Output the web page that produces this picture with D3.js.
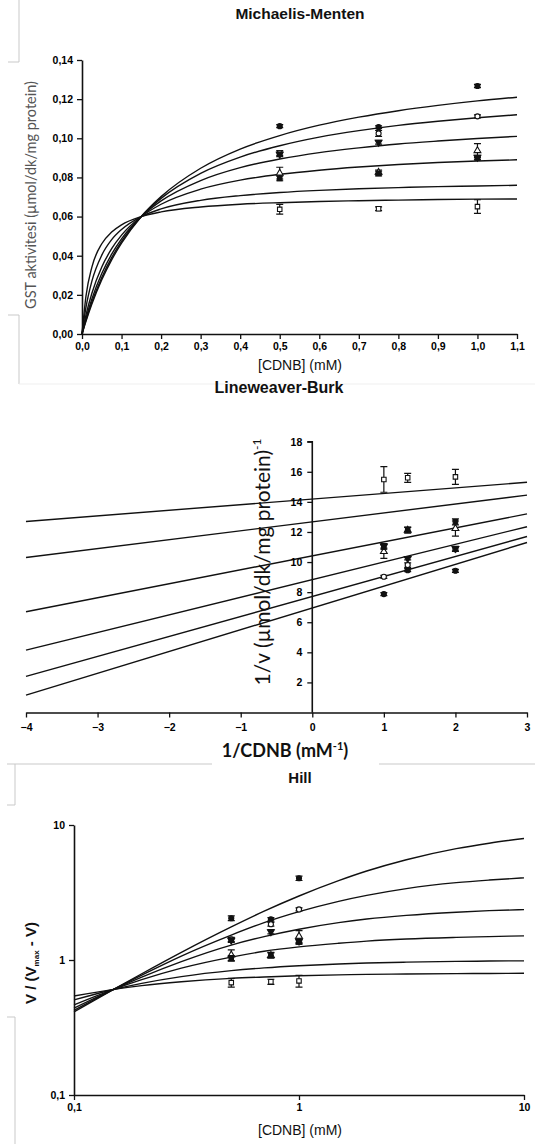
<!DOCTYPE html>
<html>
<head>
<meta charset="utf-8">
<script src="https://cdn.jsdelivr.net/npm/d3@7"></script>
<style>
  body { margin: 0; background: #fff; }
  svg { display: block; }
  .tick text { font-family: "Liberation Sans", Arial, sans-serif; font-weight: bold; font-size: 10.5px; }
  .axis path, .axis line { stroke: #111; }
  .axis path { stroke-width: 1.6px; }
  .axis line { stroke-width: 1.3px; }
</style>
</head>
<body>
<script>
// ---- Michaelis-Menten data ----
const mmS = [0.5, 0.75, 1.0];
const mmV = [
  [0.1062, 0.1057, 0.1267],
  [0.0925, 0.1025, 0.1112],
  [0.0918, 0.0980, 0.0903],
  [0.0822, 0.0826, 0.0937],
  [0.0795, 0.0820, 0.0900],
  [0.0637, 0.0640, 0.0651]
];
const mmErr = [
  [0.0008, 0.0007, 0.0008],
  [0.0012, 0.0015, 0.0008],
  [0.0012, 0.0010, 0.0010],
  [0.0030, 0.0012, 0.0036],
  [0.0012, 0.0012, 0.0010],
  [0.0025, 0.0010, 0.0035]
];
const mmCurveS = [0, 0.01, 0.025, 0.05, 0.075, 0.1, 0.15, 0.2, 0.3, 0.4, 0.5, 0.6, 0.7, 0.8, 0.9, 1.0, 1.1];
const mmCurves = [
  [0, 0.0065, 0.0153, 0.0277, 0.0379, 0.0464, 0.0600, 0.0702, 0.0847, 0.0945, 0.1014, 0.1067, 0.1108, 0.1141, 0.1168, 0.1191, 0.1210],
  [0, 0.0070, 0.0163, 0.0289, 0.0390, 0.0473, 0.0600, 0.0693, 0.0821, 0.0904, 0.0962, 0.1006, 0.1039, 0.1066, 0.1087, 0.1105, 0.1120],
  [0, 0.0079, 0.0179, 0.0309, 0.0408, 0.0486, 0.0600, 0.0680, 0.0784, 0.0850, 0.0894, 0.0927, 0.0951, 0.0971, 0.0986, 0.0999, 0.1010],
  [0, 0.0096, 0.0208, 0.0342, 0.0436, 0.0505, 0.0600, 0.0663, 0.0740, 0.0786, 0.0816, 0.0837, 0.0853, 0.0866, 0.0876, 0.0884, 0.0890],
  [0, 0.0136, 0.0270, 0.0403, 0.0482, 0.0534, 0.0600, 0.0639, 0.0683, 0.0707, 0.0723, 0.0734, 0.0742, 0.0748, 0.0753, 0.0756, 0.0760],
  [0, 0.0193, 0.0342, 0.0461, 0.0521, 0.0558, 0.0600, 0.0624, 0.0649, 0.0663, 0.0671, 0.0677, 0.0681, 0.0684, 0.0687, 0.0689, 0.0690]
];
const mmXTicks = [0, 0.1, 0.2, 0.3, 0.4, 0.5, 0.6, 0.7, 0.8, 0.9, 1.0, 1.1];
const mmYTicks = [0, 0.02, 0.04, 0.06, 0.08, 0.10, 0.12, 0.14];

// ---- Lineweaver-Burk data ----
const lbX = [2, 1.333, 1];
const lbY = [
  [9.42, 9.46, 7.87],
  [10.85, 9.80, 9.02],
  [10.90, 10.24, 11.07],
  [12.23, 12.12, 10.70],
  [12.67, 12.15, 11.00],
  [15.66, 15.60, 15.49]
];
const lbErr = [
  [0.10, 0.10, 0.10],
  [0.15, 0.15, 0.10],
  [0.15, 0.10, 0.15],
  [0.50, 0.20, 0.45],
  [0.20, 0.15, 0.15],
  [0.50, 0.30, 0.85]
];
const lbLineX = [-4, 3];
const lbLines = [
  [1.15, 11.30],
  [2.40, 11.70],
  [4.15, 12.35],
  [6.70, 13.20],
  [10.30, 14.45],
  [12.70, 15.30]
];
const lbXTicks = [-4, -3, -2, -1, 0, 1, 2, 3];
const lbYTicks = [2, 4, 6, 8, 10, 12, 14, 16, 18];

// ---- Hill data ----
const hillS = [0.5, 0.75, 1.0];
const hillY = [
  [2.04, 2.00, 4.03],
  [1.42, 1.84, 2.37],
  [1.40, 1.62, 1.38],
  [1.09, 1.08, 1.50],
  [1.03, 1.09, 1.36],
  [0.68, 0.69, 0.70]
];
const hillErr = [
  [0.08, 0.06, 0.15],
  [0.05, 0.06, 0.06],
  [0.05, 0.06, 0.06],
  [0.10, 0.05, 0.15],
  [0.05, 0.05, 0.05],
  [0.05, 0.03, 0.07]
];
const hillCurveS = [0.1, 0.15, 0.2, 0.3, 0.5, 0.7, 1, 1.5, 2, 3, 5, 7, 10];
const hillCurves = [
  [0.413, 0.606, 0.791, 1.14, 1.76, 2.30, 2.98, 3.87, 4.56, 5.53, 6.68, 7.33, 7.95],
  [0.424, 0.606, 0.773, 1.07, 1.53, 1.89, 2.28, 2.72, 3.01, 3.38, 3.74, 3.91, 4.06],
  [0.440, 0.606, 0.747, 0.973, 1.29, 1.49, 1.69, 1.89, 2.01, 2.14, 2.26, 2.32, 2.36],
  [0.465, 0.606, 0.715, 0.870, 1.05, 1.16, 1.25, 1.33, 1.38, 1.43, 1.47, 1.49, 1.51],
  [0.506, 0.605, 0.671, 0.753, 0.834, 0.874, 0.907, 0.935, 0.949, 0.964, 0.976, 0.982, 0.986],
  [0.541, 0.606, 0.646, 0.690, 0.731, 0.749, 0.764, 0.776, 0.782, 0.788, 0.793, 0.795, 0.797]
];
const hillTicks = [0.1, 1, 10];
const hillTickLabels = ["0,1", "1", "10"];

// marker per series: [symbol, filled, rotate]
const markers = [
  [d3.symbolCircle, true, 0],
  [d3.symbolCircle, false, 0],
  [d3.symbolTriangle, true, 180],
  [d3.symbolTriangle, false, 0],
  [d3.symbolSquare, true, 0],
  [d3.symbolSquare, false, 0]
];

const W = 535, H = 1144;
const svg = d3.select("body").append("svg").attr("width", W).attr("height", H);
const comma = f => v => d3.format(f)(v).replace(".", ",");

// faint frame remnants of the source layout
const frame = svg.append("g").attr("fill", "none").attr("stroke", "#c9c9c9").attr("stroke-width", 1);
frame.append("path").attr("d", "M8,62H19V0");
frame.append("path").attr("d", "M8,315H19V384");
frame.append("path").attr("d", "M19,384H535").attr("stroke", "#efefef");
frame.append("path").attr("d", "M7,764H212M379,764H535");
frame.append("path").attr("d", "M7,805H15V764");
frame.append("path").attr("d", "M7,1017H15V1144");

function drawPoints(g, xs, ys, errs, x, y) {
  ys.forEach((row, si) => {
    const m = markers[si];
    row.forEach((v, i) => {
      const cx = x(xs[i]);
      const lo = y(v - errs[si][i]), hi = y(v + errs[si][i]);
      g.append("path")
        .attr("d", `M${cx},${lo}V${hi}M${cx - 3.5},${lo}H${cx + 3.5}M${cx - 3.5},${hi}H${cx + 3.5}`)
        .attr("stroke", "#111").attr("stroke-width", 1.2).attr("fill", "none");
      g.append("path")
        .attr("d", d3.symbol(m[0], 20)())
        .attr("transform", `translate(${cx},${y(v)}) rotate(${m[2]})`)
        .attr("fill", m[1] ? "#111" : "#fff")
        .attr("stroke", "#111").attr("stroke-width", 1.1);
    });
  });
}

function title(txt, x, y, size) {
  svg.append("text").attr("x", x).attr("y", y).attr("text-anchor", "middle")
    .attr("font-family", "Liberation Sans, Arial, sans-serif").attr("font-weight", "bold")
    .attr("font-size", size).attr("fill", "#111").text(txt);
}

// ================= Michaelis-Menten =================
{
  const x = d3.scaleLinear().domain([0, 1.1]).range([82, 517]);
  const y = d3.scaleLinear().domain([0, 0.14]).range([334, 60]);
  title("Michaelis-Menten", 300, 19, 15.5);

  svg.append("g").attr("class", "axis").attr("transform", "translate(82,0)")
    .call(d3.axisLeft(y).tickValues(mmYTicks).tickFormat(comma(".2f")).tickSize(5).tickSizeOuter(0).tickPadding(4));
  svg.append("g").attr("class", "axis").attr("transform", "translate(0,334)")
    .call(d3.axisBottom(x).tickValues(mmXTicks).tickFormat(comma(".1f")).tickSize(5).tickSizeOuter(0).tickPadding(4));

  const line = d3.line().x((d, i) => x(mmCurveS[i])).y(d => y(d)).curve(d3.curveMonotoneX);
  svg.append("g").selectAll("path").data(mmCurves).join("path")
    .attr("d", line).attr("fill", "none").attr("stroke", "#111").attr("stroke-width", 1.4);

  drawPoints(svg.append("g"), mmS, mmV, mmErr, x, y);

  svg.append("text").attr("transform", "translate(36,195) rotate(-90)").attr("text-anchor", "middle")
    .attr("font-family", "Lato, sans-serif").attr("font-size", 14.5).attr("fill", "#555")
    .text("GST aktivitesi (µmol/dk/mg protein)");
  svg.append("text").attr("x", 300).attr("y", 370).attr("text-anchor", "middle")
    .attr("font-family", "Liberation Sans, Arial, sans-serif").attr("font-size", 14).attr("fill", "#111")
    .text("[CDNB] (mM)");
}

// ================= Lineweaver-Burk =================
{
  const x = d3.scaleLinear().domain([-4, 3]).range([26, 527]);
  const y = d3.scaleLinear().domain([0, 18]).range([712.5, 441.7]);
  title("Lineweaver-Burk", 279, 393, 16);

  const line = d3.line().x((d, i) => x(lbLineX[i])).y(d => y(d));
  svg.append("g").selectAll("path").data(lbLines).join("path")
    .attr("d", line).attr("fill", "none").attr("stroke", "#111").attr("stroke-width", 1.4);

  svg.append("g").attr("class", "axis").attr("transform", `translate(${x(0)},0)`)
    .call(d3.axisLeft(y).tickValues(lbYTicks).tickFormat(d3.format("d")).tickSize(5).tickSizeOuter(0).tickPadding(5))
    .call(g => g.select(".domain").attr("d", `M-5,${y(18)}H0V${y(0)}`));
  svg.append("g").attr("class", "axis").attr("transform", `translate(0,${y(0)})`)
    .call(d3.axisBottom(x).tickValues(lbXTicks).tickFormat(d3.format("d")).tickSize(5).tickSizeOuter(0).tickPadding(6));

  drawPoints(svg.append("g"), lbX, lbY, lbErr, x, y);

  const yl = svg.append("text").attr("transform", "translate(270,562) rotate(-90)").attr("text-anchor", "middle")
    .attr("font-family", "Lato, sans-serif").attr("font-size", 21).attr("fill", "#111");
  yl.append("tspan").text("1/v (µmol/dk/mg protein)");
  yl.append("tspan").attr("font-size", 12).attr("dy", -9).text("-1");

  const xl = svg.append("text").attr("x", 285).attr("y", 757).attr("text-anchor", "middle")
    .attr("font-family", "Lato, sans-serif").attr("font-weight", "bold").attr("font-size", 18).attr("fill", "#111");
  xl.append("tspan").text("1/CDNB (mM");
  xl.append("tspan").attr("font-size", 11).attr("dy", -7).text("-1");
  xl.append("tspan").attr("dy", 7).text(")");
}

// ================= Hill =================
{
  const x = d3.scaleLog().domain([0.1, 10]).range([74, 524]);
  const y = d3.scaleLog().domain([0.1, 10]).range([1095, 825]);
  title("Hill", 300, 783, 15);

  svg.append("g").attr("class", "axis").attr("transform", "translate(74,0)")
    .call(d3.axisLeft(y).tickValues(hillTicks).tickFormat((d, i) => hillTickLabels[i]).tickSize(5).tickSizeOuter(0).tickPadding(4));
  svg.append("g").attr("class", "axis").attr("transform", "translate(0,1095)")
    .call(d3.axisBottom(x).tickValues(hillTicks).tickFormat((d, i) => hillTickLabels[i]).tickSize(5).tickSizeOuter(0).tickPadding(4));

  const line = d3.line().x((d, i) => x(hillCurveS[i])).y(d => y(d)).curve(d3.curveMonotoneX);
  svg.append("g").selectAll("path").data(hillCurves).join("path")
    .attr("d", line).attr("fill", "none").attr("stroke", "#111").attr("stroke-width", 1.4);

  drawPoints(svg.append("g"), hillS, hillY, hillErr, x, y);

  const yl = svg.append("text").attr("transform", "translate(36,963) rotate(-90)").attr("text-anchor", "middle")
    .attr("font-family", "Liberation Sans, Arial, sans-serif").attr("font-weight", "bold").attr("font-size", 15).attr("fill", "#111");
  yl.append("tspan").text("V / (V");
  yl.append("tspan").attr("font-size", 8).attr("dy", 3).text("max");
  yl.append("tspan").attr("dy", -3).text(" - V)");

  svg.append("text").attr("x", 300).attr("y", 1135).attr("text-anchor", "middle")
    .attr("font-family", "Liberation Sans, Arial, sans-serif").attr("font-size", 14).attr("fill", "#111")
    .text("[CDNB] (mM)");
}
</script>
</body>
</html>
